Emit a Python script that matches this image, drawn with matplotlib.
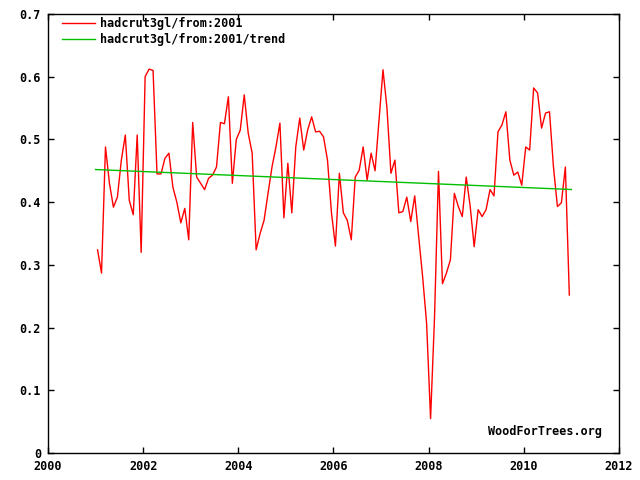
import numpy as np
import matplotlib
matplotlib.use("Agg")
import matplotlib.pyplot as plt

# monthly anomalies, Jan 2001 .. Dec 2010
start_year = 2001
anomaly = [
    0.324, 0.287, 0.488, 0.430, 0.392, 0.408, 0.467, 0.507, 0.403, 0.380, 0.507, 0.320,
    0.600, 0.612, 0.610, 0.445, 0.445, 0.470, 0.478, 0.424, 0.400, 0.367, 0.390, 0.340,
    0.527, 0.440, 0.430, 0.420, 0.438, 0.443, 0.456, 0.527, 0.525, 0.568, 0.430, 0.500,
    0.515, 0.571, 0.510, 0.478, 0.324, 0.350, 0.371, 0.414, 0.456, 0.488, 0.526, 0.375,
    0.462, 0.383, 0.488, 0.534, 0.483, 0.515, 0.536, 0.512, 0.513, 0.504, 0.467, 0.383,
    0.330, 0.446, 0.383, 0.371, 0.340, 0.440, 0.451, 0.488, 0.435, 0.478, 0.450, 0.531,
    0.611, 0.550, 0.446, 0.467, 0.383, 0.385, 0.408, 0.369, 0.410, 0.345, 0.281, 0.207,
    0.055, 0.217, 0.449, 0.270, 0.287, 0.308, 0.414, 0.393, 0.377, 0.440, 0.393, 0.329,
    0.388, 0.377, 0.388, 0.420, 0.410, 0.512, 0.523, 0.544, 0.467, 0.443, 0.448, 0.427,
    0.488, 0.483, 0.582, 0.574, 0.518, 0.542, 0.544, 0.456, 0.393, 0.399, 0.456, 0.252,
]
series_labels = ["hadcrut3gl/from:2001", "hadcrut3gl/from:2001/trend"]
x_ticks = [2000, 2002, 2004, 2006, 2008, 2010, 2012]
y_ticks = [0, 0.1, 0.2, 0.3, 0.4, 0.5, 0.6, 0.7]

t = start_year + (np.arange(len(anomaly)) + 0.5) / 12.0
y = np.array(anomaly)

# least squares trend over the same span, like the site does
slope, icpt = np.polyfit(t, y, 1)
t_trend = np.array([start_year, start_year + len(anomaly) / 12.0])
y_trend = slope * t_trend + icpt

font = {"family": "DejaVu Sans Mono", "weight": "bold", "size": 8.5}

fig = plt.figure(figsize=(6.4, 4.8), dpi=100)
ax = fig.add_axes([0.075, 0.056, 0.892, 0.915])

ax.plot(t, y, color="#ff0000", lw=1, label=series_labels[0])
ax.plot(t_trend, y_trend, color="#00c000", lw=1, label=series_labels[1])

ax.set_xlim(2000, 2012)
ax.set_ylim(0, 0.7)
ax.set_xticks(x_ticks)
ax.set_yticks(y_ticks)
ax.set_xticklabels([str(v) for v in x_ticks], fontdict=font)
ax.set_yticklabels(["0"] + ["%.1f" % v for v in y_ticks[1:]], fontdict=font)
ax.tick_params(direction="in", top=True, right=True, length=4, width=1, pad=5)
for s in ax.spines.values():
    s.set_linewidth(1)

leg = ax.legend(loc="upper left", frameon=False, prop=font, handlelength=2.8,
                handletextpad=0.4, labelspacing=0.25, borderaxespad=0.0,
                borderpad=0.0, bbox_to_anchor=(0.0245, 0.993))

ax.text(0.97, 0.035, "WoodForTrees.org", transform=ax.transAxes, ha="right",
        va="bottom", fontdict=font)

fig.savefig("out.png", dpi=100)
